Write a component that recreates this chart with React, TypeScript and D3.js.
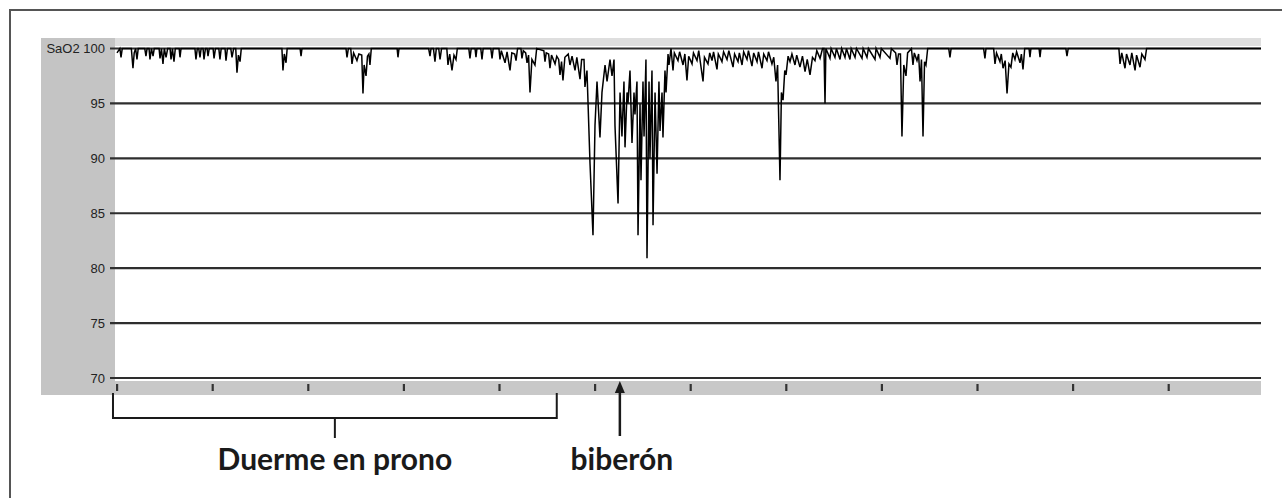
import React from 'react';
import * as d3 from 'd3';

// ---- data ----
const yTickValues = [100, 95, 90, 85, 80, 75, 70];
const xTickMinutes = [0, 10, 20, 30, 40, 50, 60, 70, 80, 90, 100, 110];
const yAxisTitle = 'SaO2';
const bracketLabel = 'Duerme en prono';
const arrowLabel = 'biberón';
const proneSpan = [-0.42, 46.0];
const feedingMinute = 52.6;

// [minute, SpO2 %]
const proneTrace: [number, number][] = [
  [0, 99.6], [0.3, 100], [0.42, 99.2], [0.55, 100],
  [1.5, 100], [1.67, 98.2], [1.8, 99.6], [1.95, 100], [2.09, 99.0], [2.22, 100],
  [2.9, 100], [3.03, 99.3], [3.15, 100], [3.35, 100], [3.45, 99.0], [3.6, 100], [3.77, 99.3], [3.9, 100],
  [4.4, 100], [4.5, 99.1], [4.65, 100], [4.81, 98.6], [4.95, 100], [5.13, 99.2], [5.3, 100], [5.55, 100], [5.65, 99.0], [5.8, 100], [5.96, 98.8], [6.1, 100], [6.5, 100], [6.59, 99.2], [6.7, 100],
  [8.15, 100], [8.26, 99.0], [8.4, 100], [8.55, 100], [8.68, 99.2], [8.8, 100], [9.0, 100], [9.1, 99.0], [9.25, 100], [9.42, 100], [9.52, 99.3], [9.65, 100], [10.05, 100], [10.15, 99.1], [10.3, 100], [10.65, 100], [10.77, 99.0], [10.9, 100], [11.3, 100], [11.4, 98.9], [11.55, 100], [11.9, 100], [12.03, 99.2], [12.2, 100], [12.42, 100], [12.55, 97.8], [12.7, 99.4], [12.87, 98.8], [13.0, 100],
  [17.25, 100], [17.36, 98.0], [17.5, 99.5], [17.68, 98.7], [17.8, 100],
  [19.15, 100], [19.25, 99.3], [19.35, 100],
  [23.95, 100], [24.06, 99.2], [24.2, 100], [24.45, 100], [24.58, 98.6], [24.75, 99.6], [25.1, 98.9], [25.3, 99.5], [25.6, 99.4], [25.73, 95.9], [25.85, 98.5], [26.05, 97.5], [26.2, 99.3], [26.35, 99.5], [26.46, 98.5], [26.6, 100],
  [29.3, 100], [29.39, 99.2], [29.5, 100],
  [32.6, 100], [32.74, 99.3], [32.85, 100], [33.1, 100], [33.26, 98.8], [33.4, 100], [33.65, 100], [33.79, 99.0], [33.95, 100], [34.5, 100], [34.62, 98.5], [34.8, 99.5], [35.04, 98.0], [35.25, 99.4], [35.46, 99.0], [35.6, 100],
  [36.8, 100], [36.92, 99.1], [37.05, 100], [37.45, 100], [37.55, 99.2], [37.65, 100], [38.05, 100], [38.18, 99.0], [38.3, 100],
  [39.1, 100], [39.23, 99.1], [39.35, 100], [39.95, 100], [40.06, 99.0], [40.2, 99.8], [40.59, 98.7], [40.8, 99.7], [41.11, 98.0], [41.3, 99.6], [41.6, 99.5], [41.74, 98.9], [41.9, 100], [42.25, 100], [42.36, 99.1], [42.5, 99.8], [42.75, 99.6], [42.89, 98.7], [43.05, 99.4], [43.2, 96.0], [43.4, 99.0], [43.72, 98.5], [43.9, 100],
  [44.65, 99.8], [44.77, 98.8], [44.9, 99.6], [45.15, 99.5], [45.29, 98.2], [45.45, 99.4], [45.82, 98.6], [46.0, 99.3],
];

const feedingTrace: [number, number][] = [
  [46.2, 99.0], [46.34, 97.6], [46.5, 98.8], [46.65, 97.1], [46.85, 99.2], [47.2, 99.5], [47.38, 98.5], [47.6, 99.3], [47.91, 98.0], [48.1, 99.2], [48.43, 97.2], [48.6, 99.0], [48.85, 99.0], [48.95, 96.5], [49.16, 98.0],
  [49.48, 89.5], [49.79, 83.0], [50.0, 93], [50.21, 97], [50.52, 91.9], [50.73, 96], [51.05, 98.5], [51.26, 97], [51.57, 99], [51.78, 97.5], [51.99, 99],
  [52.09, 93], [52.41, 85.9], [52.62, 96], [52.82, 92], [53.03, 97], [53.14, 91], [53.35, 96], [53.45, 95], [53.66, 98], [53.87, 91.4], [54.08, 96], [54.18, 94], [54.39, 97],
  [54.5, 83], [54.71, 95], [54.81, 88], [55.02, 97], [55.13, 92], [55.33, 99], [55.44, 80.9], [55.65, 97], [55.75, 90], [55.96, 98], [56.07, 83.9], [56.28, 96], [56.49, 88.6], [56.69, 97], [56.8, 92.5], [57.01, 96], [57.11, 91.9], [57.32, 98], [57.43, 96], [57.64, 99.5], [57.74, 98.5], [57.95, 100],
];

const afterTrace: [number, number][] = [
  [58.16, 98.0], [58.3, 99.6], [58.68, 98.9], [58.85, 99.7], [59.21, 98.5], [59.4, 99.5], [59.62, 97.1], [59.8, 99.3], [60.15, 98.6], [60.3, 99.6], [60.67, 98.9], [60.85, 99.8], [61.3, 97.0], [61.45, 99.2], [61.82, 98.6], [62.0, 99.6], [62.24, 98.9], [62.4, 99.7], [62.76, 98.1], [62.9, 99.5], [63.28, 98.8], [63.45, 99.7], [63.81, 99.0], [64.0, 99.8],
  [64.44, 98.3], [64.6, 99.5], [64.96, 98.8], [65.1, 99.6], [65.38, 98.5], [65.55, 99.7], [65.9, 99.0], [66.05, 99.8], [66.42, 98.4], [66.6, 99.6], [66.95, 98.8], [67.1, 99.7], [67.47, 98.2], [67.65, 99.5], [67.99, 98.9], [68.15, 99.7], [68.51, 98.6], [68.7, 99.2], [68.93, 97.0], [69.1, 98.5],
  [69.35, 88.0], [69.5, 96], [69.67, 95.3], [69.85, 98], [69.98, 97.6], [70.2, 99.3], [70.4, 98.8], [70.6, 99.5], [70.92, 98.5], [71.1, 99.4], [71.44, 98.3], [71.7, 99.3], [71.97, 97.9], [72.2, 99.0], [72.49, 97.6], [72.75, 99.2], [73.01, 98.9], [73.2, 99.8], [73.54, 99.1], [73.8, 100],
  [73.95, 100], [74.06, 95.0], [74.15, 100], [74.58, 99.1], [74.7, 100], [75.1, 99.2], [75.25, 100], [75.63, 99.0], [75.8, 100], [76.15, 99.2], [76.3, 100], [76.67, 99.0], [76.8, 100], [77.2, 99.2], [77.35, 100], [77.93, 99.1], [78.05, 100], [78.45, 99.2], [78.6, 100], [79.29, 99.0], [79.4, 100], [79.81, 99.2], [79.95, 100], [80.86, 99.1], [81.0, 100],
  [81.45, 99.6], [81.59, 98.5], [81.75, 99.5], [81.95, 99.5], [82.11, 92.0], [82.3, 98.5], [82.53, 97.5], [82.7, 99.6], [83.1, 100], [83.26, 98.5], [83.4, 99.6], [83.68, 98.9], [83.85, 99.5], [84.0, 97.0], [84.15, 99.0], [84.31, 92.0], [84.47, 98.8], [84.62, 98.5], [84.8, 100],
  [87.0, 100], [87.13, 99.2], [87.25, 100],
  [90.65, 100], [90.79, 99.1], [90.9, 100], [91.7, 100], [91.84, 98.6], [92.0, 99.6], [92.36, 98.8], [92.5, 99.5], [92.68, 98.2], [92.9, 98.9], [93.1, 95.9], [93.3, 98.6], [93.51, 98.3], [93.7, 99.6], [93.93, 99.0], [94.1, 99.7], [94.46, 98.7], [94.6, 99.5], [94.77, 98.1], [94.95, 100],
  [95.4, 100], [95.5, 99.2], [95.6, 100], [96.45, 100], [96.55, 99.2], [96.65, 100], [99.25, 100], [99.37, 99.3], [99.5, 100],
  [104.8, 100], [104.92, 98.6], [105.1, 99.6], [105.44, 98.2], [105.6, 99.5], [105.96, 98.5], [106.15, 99.6], [106.49, 98.0], [106.65, 99.4], [107.01, 98.3], [107.2, 99.5], [107.53, 99.0], [107.7, 100], [119.7, 100],
];

export default function App() {
  const W = 1282;
  const H = 498;
  const plotLeft = 115;
  const plotRight = 1261;
  const x = d3.scaleLinear().domain([0, 120]).range([117, 117 + 95.6 * 12]);
  const y = d3.scaleLinear().domain([70, 100]).range([378, 48.5]);

  const trace = [...proneTrace, ...feedingTrace, ...afterTrace];
  const line = d3
    .line<[number, number]>()
    .x((d) => x(d[0]))
    .y((d) => y(d[1]));

  const stripTop = 381;
  const stripBottom = 395;
  const bx0 = x(proneSpan[0]);
  const bx1 = x(proneSpan[1]);
  const bmid = (bx0 + bx1) / 2;
  const bracketY = 418;
  const ax = x(feedingMinute);

  const labelFont = 'Lato, "Open Sans", sans-serif';

  return (
    <svg
      width={W}
      height={H}
      style={{ position: 'absolute', left: 0, top: 0, background: '#fff' }}
    >
      <defs>
        <clipPath id="plotClip">
          <rect x={plotLeft} y={40} width={plotRight - plotLeft} height={345} />
        </clipPath>
      </defs>
      {/* outer frame */}
      <rect x={10} y={10} width={1300} height={520} fill="none" stroke="#555" strokeWidth={2} />

      {/* left gray panel */}
      <rect x={41} y={38} width={plotLeft - 41} height={stripBottom - 38} fill="#c4c4c4" />
      {/* top light strip */}
      <rect x={plotLeft} y={38} width={plotRight - plotLeft} height={8} fill="#dedede" />
      {/* bottom strip */}
      <rect x={plotLeft} y={stripTop} width={plotRight - plotLeft} height={stripBottom - stripTop} fill="#c8c8c8" />

      {/* gridlines */}
      {yTickValues.map((v) => (
        <line
          key={v}
          x1={110}
          x2={plotRight}
          y1={y(v)}
          y2={y(v)}
          stroke="#2e2e2e"
          strokeWidth={2.2}
        />
      ))}
      {/* y tick labels */}
      {yTickValues.map((v) => (
        <text
          key={'t' + v}
          x={105}
          y={y(v)}
          dy="0.36em"
          textAnchor="end"
          fontFamily='"Liberation Sans", Arial, sans-serif'
          fontSize={13}
          fill="#222"
        >
          {v === 100 ? `${yAxisTitle} ${v}` : v}
        </text>
      ))}

      {/* x ticks in bottom strip */}
      {xTickMinutes.map((m) => (
        <rect key={m} x={x(m) - 1} y={384} width={2.2} height={7} fill="#333" />
      ))}

      {/* trace */}
      <path
        d={line(trace) || ''}
        fill="none"
        stroke="#000"
        strokeWidth={1.5}
        strokeLinejoin="miter"
        clipPath="url(#plotClip)"
      />

      {/* bracket */}
      <path
        d={`M${bx0},${393} V${bracketY} H${bx1} V${393}`}
        fill="none"
        stroke="#1a1a1a"
        strokeWidth={2}
      />
      <line x1={bmid} x2={bmid} y1={bracketY} y2={438} stroke="#1a1a1a" strokeWidth={2} />
      <text
        x={bmid}
        y={470}
        textAnchor="middle"
        fontFamily={labelFont}
        fontWeight={700}
        fontSize={30}
        fill="#1a1a1a"
      >
        {bracketLabel}
      </text>

      {/* arrow */}
      <line x1={ax} x2={ax} y1={436} y2={390} stroke="#1a1a1a" strokeWidth={2.5} />
      <path d={`M${ax},${381} L${ax - 5},${393} L${ax + 5},${393} Z`} fill="#1a1a1a" />
      <text
        x={ax + 2}
        y={470}
        textAnchor="middle"
        fontFamily={labelFont}
        fontWeight={700}
        fontSize={30}
        fill="#1a1a1a"
      >
        {arrowLabel}
      </text>
    </svg>
  );
}
